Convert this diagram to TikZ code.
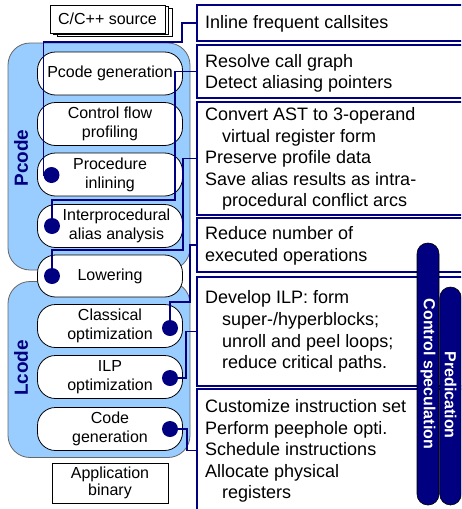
\documentclass[tikz,border=0pt]{standalone}
\usepackage{fontspec}
\setmainfont{Liberation Sans}
\definecolor{nv}{RGB}{0,0,128}
\definecolor{lb}{RGB}{153,204,255}
\begin{document}
\begin{tikzpicture}[x=1pt,y=-1pt,
  cont/.style={draw=black!60, fill=lb, rounded corners=22pt, line width=0.8pt, inner sep=0pt},
  lnode/.style={draw=black, fill=white, rounded corners=18pt, minimum width=145pt, minimum height=43pt, align=center, font=\fontsize{16}{19}\selectfont, inner sep=0pt, line width=0.8pt},
  rbox/.style={draw=nv, fill=white, line width=1.8pt, minimum width=278pt, inner sep=0pt},
  rtxt/.style={anchor=base west, inner sep=0pt, font=\fontsize{18}{21.7}\selectfont},
  dotn/.style={circle, fill=nv, minimum size=16pt, inner sep=0pt},
  conn/.style={draw=nv, line width=1.5pt},
  barn/.style={draw=black, fill=nv, rounded corners=10.8pt, line width=0.6pt, inner sep=0pt},
  bartxt/.style={rotate=-90, text=white, font=\fontsize{16}{18}\selectfont\bfseries, inner sep=0pt},
  srcbox/.style={draw=black, fill=white, minimum width=115pt, minimum height=28pt, line width=0.8pt, inner sep=0pt, font=\fontsize{16}{19}\selectfont},
  grp/.style={rotate=90, text=nv, font=\fontsize{19}{22}\selectfont\bfseries, inner sep=0pt}]
\useasboundingbox (0,0) rectangle (461,509);
\clip (0,0) rectangle (461,509);
\fill[white] (0,0) rectangle (461,509);

% containers
\node[cont, minimum width=182pt, minimum height=227pt] (pc) at (99,156.5) {};
\node[cont, minimum width=182pt, minimum height=176pt] (lc) at (99,369.5) {};
\node[grp] (pl) at (21,158) {Pcode};
\node[grp] (ll) at (21,368) {Lcode};

% source
\node[srcbox] (src3) at (114.5,22) {};
\node[srcbox] (src2) at (111,20.5) {};
\node[srcbox] (src) at (107.5,19) {C/C++ source};

% left nodes
\node[lnode] (n1) at (110,73.5) {Pcode generation};
\node[lnode] (n2) at (110,124) {Control flow\\profiling};
\node[lnode] (n3) at (110,174.5) {Procedure\\inlining};
\node[lnode] (n4) at (110,226) {\hspace*{13pt}Interprocedural\\\hspace*{13pt}alias analysis};
\node[lnode, minimum height=42pt] (n5) at (110,276) {Lowering};
\node[lnode] (n6) at (110,326) {Classical\\optimization};
\node[lnode] (n7) at (110,377) {ILP\\optimization};
\node[lnode] (n8) at (110,429) {Code\\generation};

\node[draw=black, line width=0.8pt, minimum width=116pt, minimum height=40pt, align=center, inner sep=0pt, font=\fontsize{16}{17}\selectfont] (app) at (110,483) {Application\\binary};

% right boxes
\node[rbox, minimum height=36pt] (b1) at (336,23) {};
\node[rbox, minimum height=53pt] (b2) at (336,71.5) {};
\node[rbox, minimum height=113pt] (b3) at (336,158.5) {};
\node[rbox, minimum height=54pt] (b4) at (336,245) {};
\node[rbox, minimum height=109pt] (b5) at (336,331.5) {};
\node[rbox, minimum height=123pt] (b6) at (336,450.5) {};

\node[rtxt] (t1) at (205,28) {Inline frequent callsites};
\node[rtxt] (t2a) at (205,67) {Resolve call graph};
\node[rtxt] (t2b) at (205,88) {Detect aliasing pointers};
\node[rtxt] (t3a) at (205,120) {Convert AST to 3-operand};
\node[rtxt] (t3b) at (222,142) {virtual register form};
\node[rtxt] (t3c) at (205,163) {Preserve profile data};
\node[rtxt] (t3d) at (205,185) {Save alias results as intra-};
\node[rtxt] (t3e) at (222,206.5) {procedural conflict arcs};
\node[rtxt] (t4a) at (205,239) {Reduce number of};
\node[rtxt] (t4b) at (205,261) {executed operations};
\node[rtxt] (t5a) at (205,303) {Develop ILP: form};
\node[rtxt] (t5b) at (222,325) {super-/hyperblocks;};
\node[rtxt] (t5c) at (222,347) {unroll and peel loops;};
\node[rtxt] (t5d) at (222,368.5) {reduce critical paths.};
\node[rtxt] (t6a) at (205,412) {Customize instruction set};
\node[rtxt] (t6b) at (205,434) {Perform peephole opti.};
\node[rtxt] (t6c) at (205,455.5) {Schedule instructions};
\node[rtxt] (t6d) at (205,477) {Allocate physical};
\node[rtxt] (t6e) at (222,498.5) {registers};

% dots
\node[dotn] (d1) at (51.5,175) {};
\node[dotn] (d2) at (52,226) {};
\node[dotn] (d3) at (52,276) {};
\node[dotn] (d4) at (170,328) {};
\node[dotn] (d5) at (170,378) {};
\node[dotn] (d6) at (170,429) {};

% connectors
\draw[conn] (b1.west) -| (182,42) -| (43.5,175) -- (d1.west);
\draw[conn] (b2.west) -| (175,200) -| (d2.north);
\draw[conn] (b3.west) -| (183,250) -| (d3.north);
\draw[conn] (b4.west) -| (190,302) -| (d4.north);
\draw[conn] (b5.west) -| ([xshift=8pt]d5.east) -- (d5.east);
\draw[conn] (b6.west) -| ([xshift=9pt]d6.east) -- (d6.east);

% bars
\node[barn, minimum width=22pt, minimum height=262pt] (cs) at (428,374) {};
\node[bartxt] (cst) at (428,374) {Control speculation};
\node[barn, minimum width=21.5pt, minimum height=218pt] (pr) at (450.5,396) {};
\node[bartxt] (prt) at (450.5,395) {Predication};
\end{tikzpicture}
\end{document}
